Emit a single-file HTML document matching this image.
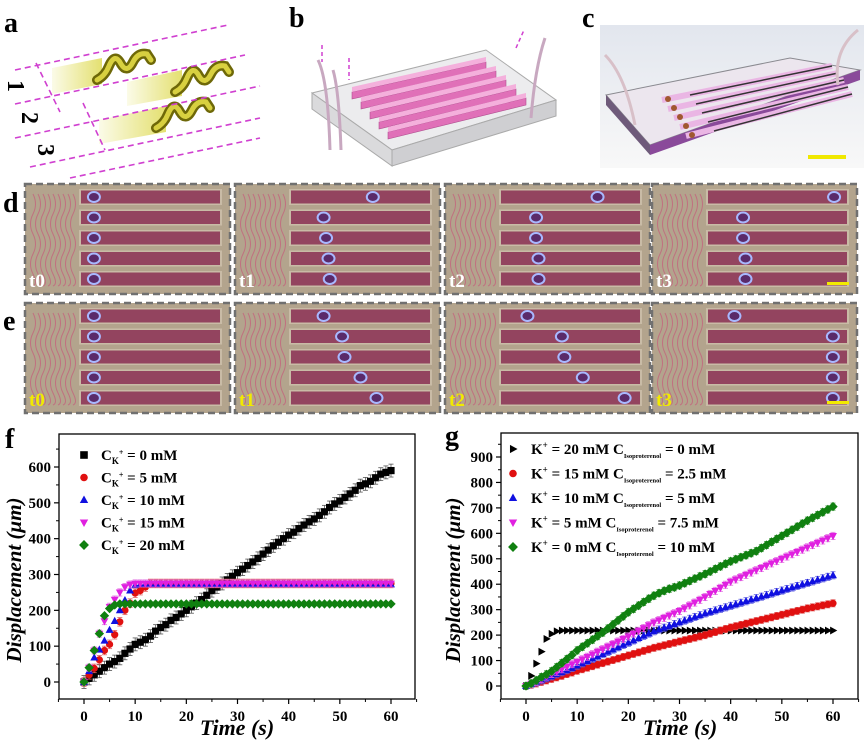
<!DOCTYPE html>
<html><head><meta charset="utf-8">
<style>
html,body{margin:0;padding:0;background:#fff;}
svg{display:block;font-family:"Liberation Serif",serif;}
</style></head>
<body>
<svg id="fig" width="866" height="741" viewBox="0 0 866 741" xmlns="http://www.w3.org/2000/svg">
<defs>
<linearGradient id="yel" x1="0" x2="1" y1="0" y2="0"><stop offset="0" stop-color="#fbfbe8"/><stop offset="1" stop-color="#e4e070"/></linearGradient>
<linearGradient id="bgc" x1="0" x2="0" y1="0" y2="1"><stop offset="0" stop-color="#e2e6ee"/><stop offset="1" stop-color="#f8f8f8"/></linearGradient>
</defs>
<!-- panel labels -->
<g font-weight="bold" font-size="28" fill="#000">
<text x="4" y="32">a</text>
<text x="289" y="27">b</text>
<text x="582" y="27">c</text>
<text x="3" y="212">d</text>
<text x="3" y="330">e</text>
<text x="5" y="448">f</text>
<text x="445" y="445">g</text>
</g>
<!-- panel a -->
<g id="pa">
<polygon points="52,68 102,58 102,84 52,94" fill="url(#yel)"/>
<polygon points="127,82 182,70 182,96 127,106" fill="url(#yel)"/>
<polygon points="99,120 166,106 166,132 99,144" fill="url(#yel)"/>
<g fill="none" stroke-linecap="round">
<path d="M97,80 q8,-4 12,-14 q6,-14 12,-2 q6,10 12,-2 q5,-10 14,-8 l4,6" stroke="#6e6808" stroke-width="10"/>
<path d="M97,80 q8,-4 12,-14 q6,-14 12,-2 q6,10 12,-2 q5,-10 14,-8 l4,6" stroke="#d8d040" stroke-width="5"/>
<path d="M175,92 q8,-4 12,-14 q6,-14 12,-2 q6,10 12,-2 q5,-10 14,-8 l4,6" stroke="#6e6808" stroke-width="10"/>
<path d="M175,92 q8,-4 12,-14 q6,-14 12,-2 q6,10 12,-2 q5,-10 14,-8 l4,6" stroke="#d8d040" stroke-width="5"/>
<path d="M156,128 q8,-4 12,-14 q6,-14 12,-2 q6,10 12,-2 q5,-10 14,-8 l4,6" stroke="#6e6808" stroke-width="10"/>
<path d="M156,128 q8,-4 12,-14 q6,-14 12,-2 q6,10 12,-2 q5,-10 14,-8 l4,6" stroke="#d8d040" stroke-width="5"/>
</g>
<g stroke="#d040d0" stroke-width="1.6" stroke-dasharray="6,4" fill="none">
<line x1="15" y1="70" x2="228" y2="25"/>
<line x1="15" y1="104" x2="245" y2="55"/>
<line x1="15" y1="138" x2="260" y2="86"/>
<line x1="30" y1="167" x2="260" y2="118"/>
<line x1="70" y1="178" x2="260" y2="138"/>
<line x1="36" y1="63" x2="60" y2="112"/>
<line x1="83" y1="103" x2="105" y2="150"/>
</g>
<g font-weight="bold" font-size="24">
<text transform="translate(8,80) rotate(90)">1</text>
<text transform="translate(22,112) rotate(90)">2</text>
<text transform="translate(38,144) rotate(90)">3</text>
</g>
</g>
<!-- panel b -->
<g id="pb">
<polygon points="312,93 486,50 556,100 392,150" fill="#ececee" stroke="#aaa"/>
<polygon points="312,93 392,150 392,166 312,109" fill="#dadadc" stroke="#aaa"/>
<polygon points="392,150 556,100 556,116 392,166" fill="#cfcfd2" stroke="#aaa"/>
<g id="bchan"></g>
<path d="M318,60 q10,20 12,90" stroke="#c8a8c0" stroke-width="3" fill="none"/>
<path d="M333,70 q6,20 8,80" stroke="#c8a8c0" stroke-width="3" fill="none"/>
<path d="M545,38 q-10,30 -14,80" stroke="#c8a8c0" stroke-width="3" fill="none"/>
<g stroke="#d040d0" stroke-width="1.5" stroke-dasharray="4,3" fill="none">
<line x1="322" y1="45" x2="322" y2="62"/><line x1="349" y1="58" x2="349" y2="80"/><line x1="516" y1="48" x2="524" y2="30"/>
</g>
</g>
<!-- panel c -->
<g id="pc">
<rect x="600" y="25" width="264" height="143" fill="url(#bgc)"/>
<polygon points="606,95 790,58 860,70 650,145" fill="#ece6ee" stroke="#8a8a90"/>
<polygon points="606,95 650,145 650,155 606,105" fill="#6e5a7a"/>
<polygon points="650,145 860,70 860,80 650,155" fill="#8a4a9a"/>
<g stroke="#eab6e4" stroke-width="6">
<line x1="662" y1="100" x2="832" y2="66"/><line x1="668" y1="109" x2="838" y2="73"/>
<line x1="674" y1="118" x2="844" y2="80"/><line x1="680" y1="127" x2="848" y2="87"/><line x1="686" y1="136" x2="852" y2="94"/>
</g>
<g stroke="#333" stroke-width="1.5">
<line x1="690" y1="95" x2="832" y2="66"/><line x1="696" y1="104" x2="838" y2="73"/><line x1="702" y1="113" x2="844" y2="80"/><line x1="708" y1="122" x2="848" y2="87"/><line x1="714" y1="131" x2="852" y2="94"/>
</g>
<g fill="#a05830"><circle cx="668" cy="99" r="3"/><circle cx="674" cy="108" r="3"/><circle cx="680" cy="117" r="3"/><circle cx="686" cy="126" r="3"/><circle cx="692" cy="135" r="3"/></g>
<path d="M605,55 q20,20 30,70" stroke="#d8c0c8" stroke-width="3" fill="none"/>
<path d="M858,30 q-25,20 -20,55" stroke="#d8c0c8" stroke-width="3" fill="none"/>
<rect x="808" y="155" width="38" height="4" fill="#f0e800"/>
</g>
<g id="rows"></g>
<g id="chartF"></g>
<g id="chartG"></g>
</svg>
<script>
// ---------- chart f data ----------
const fTime = [];
for (let i = 0; i <= 60; i++) fTime.push(i);
const fXTicks = [0,10,20,30,40,50,60];
const fYTicks = [0,100,200,300,400,500,600];
const fBlack = [0,10,20,30,40,50,57,66,80,92,105,111,118,128,142,152,160,172,180,190,200,210,220,230,242,255,265,275,285,295,305,315,325,335,345,357,368,380,390,400,410,418,428,438,447,455,465,475,487,497,505,515,525,535,548,553,560,570,580,585,590];
const fRed = [0,20,38,62,88,105,132,168,200,220,248,255,265,275,275,275,275,275,275,275,275,275,275,275,275,275,275,275,275,275,275,275,275,275,275,275,275,275,275,275,275,275,275,275,275,275,275,275,275,275,275,275,275,275,275,275,275,275,275,275,275];
const fBlue = [0,30,68,90,115,145,170,200,228,255,270,272,272,272,272,272,272,272,272,272,272,272,272,272,272,272,272,272,272,272,272,272,272,272,272,272,272,272,272,272,272,272,272,272,272,272,272,272,272,272,272,272,272,272,272,272,272,272,272,272,272];
const fMagenta = [0,40,88,135,170,210,230,250,265,272,275,275,275,275,275,275,275,275,275,275,275,275,275,275,275,275,275,275,275,275,275,275,275,275,275,275,275,275,275,275,275,275,275,275,275,275,275,275,275,275,275,275,275,275,275,275,275,275,275,275,275];
const fGreen = [0,40,88,135,185,205,215,218,218,218,218,218,218,218,218,218,218,218,218,218,218,218,218,218,218,218,218,218,218,218,218,218,218,218,218,218,218,218,218,218,218,218,218,218,218,218,218,218,218,218,218,218,218,218,218,218,218,218,218,218,218];
// ---------- chart g data ----------
const gTime = fTime;
const gXTicks = [0,10,20,30,40,50,60];
const gYTicks = [0,100,200,300,400,500,600,700,800,900];
const gBlack = [0,40,88,135,185,205,215,218,218,218,218,218,218,218,218,218,218,218,218,218,218,218,218,218,218,218,218,218,218,218,218,218,218,218,218,218,218,218,218,218,218,218,218,218,218,218,218,218,218,218,218,218,218,218,218,218,218,218,218,218,218];
const gRed = [0,5,10,16,22,28,34,40,47,53,60,66,72,78,84,90,96,102,108,114,120,126,132,138,144,150,155,160,165,170,175,180,185,190,195,200,206,212,218,224,230,235,240,245,250,255,260,265,270,275,280,285,290,295,300,305,309,313,317,321,325];
const gBlue = [0,7,14,22,30,38,46,54,62,71,80,89,98,107,116,125,134,143,152,161,170,179,188,197,206,215,222,229,236,243,250,257,264,271,278,285,291,297,303,309,315,321,327,333,339,345,351,357,363,369,375,381,387,393,399,405,411,417,423,429,435];
const gMagenta = [0,8,17,27,37,47,56,66,76,86,95,105,115,125,135,145,155,165,175,185,195,206,217,228,239,250,259,268,277,286,295,306,317,328,339,350,362,374,386,398,410,419,428,437,446,455,464,473,482,491,500,509,518,527,536,545,554,563,572,581,590];
const gGreen = [0,10,22,35,46,58,74,90,106,122,140,154,168,182,196,210,226,242,258,274,290,303,316,330,343,355,365,374,382,388,395,404,413,422,431,440,450,460,470,480,490,498,506,514,522,530,542,554,566,578,590,602,614,626,638,650,661,672,683,694,705];

const NS = "http://www.w3.org/2000/svg";
function mk(tag, attrs, parent, txt) {
  const e = document.createElementNS(NS, tag);
  for (const k in attrs) e.setAttribute(k, attrs[k]);
  if (txt !== undefined) e.textContent = txt;
  parent.appendChild(e);
  return e;
}
function marker(p, shape, x, y, c, s) {
  s = s || 3.6;
  let el;
  if (shape === 'sq') el = mk('rect', {x: x - s, y: y - s, width: 2 * s, height: 2 * s, fill: c}, p);
  else if (shape === 'ci') el = mk('circle', {cx: x, cy: y, r: s, fill: c}, p);
  else if (shape === 'up') el = mk('polygon', {points: `${x},${y - s * 1.2} ${x - s * 1.1},${y + s * 0.8} ${x + s * 1.1},${y + s * 0.8}`, fill: c}, p);
  else if (shape === 'dn') el = mk('polygon', {points: `${x},${y + s * 1.2} ${x - s * 1.1},${y - s * 0.8} ${x + s * 1.1},${y - s * 0.8}`, fill: c}, p);
  else if (shape === 'di') el = mk('polygon', {points: `${x},${y - s * 1.3} ${x + s * 1.3},${y} ${x},${y + s * 1.3} ${x - s * 1.3},${y}`, fill: c}, p);
  else el = mk('polygon', {points: `${x + s * 1.2},${y} ${x - s * 0.8},${y - s * 1.1} ${x - s * 0.8},${y + s * 1.1}`, fill: c}, p);
  return el;
}

// ---------- panel b channels ----------
(function () {
  const g = document.getElementById('bchan');
  for (let i = 0; i < 5; i++) {
    const sx = 352 + 9 * i, sy = 92 + 10 * i, ex = 486 + 10 * i, ey = 62 + 9 * i;
    const el = mk('polygon', {points: `${sx},${sy} ${ex},${ey} ${ex},${ey + 7} ${sx},${sy + 7}`, fill: '#e070b8', stroke: '#b05090', 'stroke-width': 0.6}, g);
    
    
    mk('polygon', {points: `${sx},${sy - 5} ${ex},${ey - 5} ${ex},${ey} ${sx},${sy}`, fill: '#f4b0dc'}, g);
  }
})();

// ---------- panels d / e ----------
const panelX = [25, 235, 445, 652];
const panelW = 205;
const dPos = [[0.04,0.04,0.04,0.04,0.04],[0.6,0.2,0.22,0.24,0.25],[0.72,0.22,0.22,0.24,0.24],[0.96,0.22,0.22,0.24,0.24]];
const ePos = [[0.04,0.04,0.04,0.04,0.04],[0.2,0.35,0.37,0.5,0.63],[0.15,0.43,0.45,0.6,0.94],[0.15,0.95,0.95,0.95,0.95]];
(function () {
  const root = document.getElementById('rows');
  const rows = [{y: 184, pos: dPos, col: '#ffffff', name: 'd'}, {y: 303, pos: ePos, col: '#f2ea00', name: 'e'}];
  rows.forEach(r => {
    panelX.forEach((px, k) => {
      const g = mk('g', {}, root);
      
      
      mk('rect', {x: px, y: r.y, width: panelW, height: 110, fill: '#b3a48d', stroke: '#707070', 'stroke-width': 2.5, 'stroke-dasharray': '7,4'}, g);
      for (let j = 0; j < 9; j++) mk('path', {d: `M${px + 8 + j * 5},${r.y + 10} q5,10 0,20 q-5,10 0,20 q5,10 0,20 q-5,10 0,20 q5,10 0,12`, stroke: '#c07080', 'stroke-width': 1, fill: 'none'}, g);
      for (let c = 0; c < 5; c++) {
        const cy = r.y + 13 + c * 20.5;
        const cx0 = px + 56, cw = panelW - 66;
        mk('rect', {x: cx0 - 2, y: cy - 8, width: cw + 4, height: 16, fill: '#c9bba6'}, g);
        const ch = mk('rect', {x: cx0, y: cy - 6.5, width: cw, height: 13, fill: '#93445f'}, g);
        
        
        const mx = cx0 + 8 + r.pos[k][c] * (cw - 16);
        const rob = mk('ellipse', {cx: mx, cy: cy, rx: 6, ry: 5, fill: '#5a2a6a', stroke: '#a8b8ff', 'stroke-width': 2}, g);
        
        
      }
      const t = mk('text', {x: px + 4, y: r.y + 103, fill: r.col, 'font-size': 19, 'font-weight': 'bold'}, g, 't' + k);
      
      
      if (k === 3) mk('rect', {x: px + 175, y: r.y + 98, width: 22, height: 3, fill: '#f2ea00'}, g);
    });
  });
})();

// ---------- chart builder ----------
function buildChart(cfg) {
  const g = document.getElementById(cfg.id);
  const X = t => cfg.x0 + (t - cfg.tmin) * cfg.xs;
  const Y = v => cfg.y0 - v * cfg.ys;
  const f = cfg.frame;
  const fr = mk('rect', {x: f[0], y: f[1], width: f[2] - f[0], height: f[3] - f[1], fill: 'none', stroke: '#000', 'stroke-width': 1.3}, g);
  
  
  cfg.xticks.forEach(t => {
    mk('line', {x1: X(t), x2: X(t), y1: f[3], y2: f[3] + 5, stroke: '#000', 'stroke-width': 1.2}, g);
    mk('line', {x1: X(t + 5), x2: X(t + 5), y1: f[3], y2: f[3] + 3, stroke: '#000', 'stroke-width': 1}, g);
    const tl = mk('text', {x: X(t), y: f[3] + 22, 'text-anchor': 'middle', 'font-size': 15, 'font-weight': 'bold'}, g, t);
    
    
  });
  mk('line', {x1: X(-5), x2: X(-5), y1: f[3], y2: f[3] + 3, stroke: '#000'}, g);
  cfg.yticks.forEach(v => {
    mk('line', {x1: f[0] - 5, x2: f[0], y1: Y(v), y2: Y(v), stroke: '#000', 'stroke-width': 1.2}, g);
    mk('line', {x1: f[0] - 3, x2: f[0], y1: Y(v + 50), y2: Y(v + 50), stroke: '#000'}, g);
    const tl = mk('text', {x: f[0] - 8, y: Y(v) + 5, 'text-anchor': 'end', 'font-size': 15, 'font-weight': 'bold'}, g, v);
    
    
  });
  const xt = mk('text', {x: cfg.xtitle[0], y: cfg.xtitle[1], 'text-anchor': 'middle', 'font-size': 22, 'font-weight': 'bold', 'font-style': 'italic'}, g, 'Time (s)');
  
  
  const yt = mk('text', {transform: `translate(${cfg.ytitle[0]},${cfg.ytitle[1]}) rotate(-90)`, 'text-anchor': 'middle', 'font-size': 21, 'font-weight': 'bold', 'font-style': 'italic'}, g, 'Displacement (\u03bcm)');
  
  
  cfg.series.forEach(s => {
    const sg = mk('g', {}, g);
    
    
    s.data.forEach((v, i) => {
      const t = cfg.time[i];
      if (s.err) {
        const e = s.err * cfg.ys;
        mk('line', {x1: X(t), x2: X(t), y1: Y(v) - e, y2: Y(v) + e, stroke: s.errColor, 'stroke-width': 0.8}, sg);
        mk('line', {x1: X(t) - 2.5, x2: X(t) + 2.5, y1: Y(v) - e, y2: Y(v) - e, stroke: s.errColor, 'stroke-width': 0.8}, sg);
        mk('line', {x1: X(t) - 2.5, x2: X(t) + 2.5, y1: Y(v) + e, y2: Y(v) + e, stroke: s.errColor, 'stroke-width': 0.8}, sg);
      }
      const m = marker(sg, s.shape, X(t), Y(v), s.color);
      
      
    });
  });
  cfg.legend.forEach((l, i) => {
    const lg = mk('g', {}, g);
    
    
    const ly = cfg.legY + i * cfg.legDy;
    marker(lg, l.shape, cfg.legX, ly, l.color, 3.8);
    const tx = mk('text', {x: cfg.legX + cfg.legTx, y: ly + 5, 'font-size': 15, 'font-weight': 'bold'}, lg);
    tx.innerHTML = l.html;
  });
}

buildChart({
  id: 'chartF', frame: [59, 434, 415, 699], x0: 84, tmin: 0, xs: 307 / 60, y0: 682, ys: 215 / 600,
  xticks: fXTicks, yticks: fYTicks, time: fTime, xtitle: [237, 735], ytitle: [21, 580],
  series: [
    {name: 'series-0mM', data: fBlack, color: '#000', shape: 'sq', err: 18, errColor: '#555'},
    {name: 'series-5mM', data: fRed, color: '#e01010', shape: 'ci', err: 12, errColor: '#e06060'},
    {name: 'series-10mM', data: fBlue, color: '#1010e0', shape: 'up'},
    {name: 'series-15mM', data: fMagenta, color: '#e020e0', shape: 'dn', err: 10, errColor: '#e070e0'},
    {name: 'series-20mM', data: fGreen, color: '#108010', shape: 'di'}
  ],
  legX: 84, legY: 455, legDy: 22.5, legTx: 17,
  legend: [
    {shape: 'sq', color: '#000', html: 'C<tspan font-size="9" dy="4">K</tspan><tspan font-size="8" dy="-9">+</tspan><tspan dy="5"> = 0 mM</tspan>'},
    {shape: 'ci', color: '#e01010', html: 'C<tspan font-size="9" dy="4">K</tspan><tspan font-size="8" dy="-9">+</tspan><tspan dy="5"> = 5 mM</tspan>'},
    {shape: 'up', color: '#1010e0', html: 'C<tspan font-size="9" dy="4">K</tspan><tspan font-size="8" dy="-9">+</tspan><tspan dy="5"> = 10 mM</tspan>'},
    {shape: 'dn', color: '#e020e0', html: 'C<tspan font-size="9" dy="4">K</tspan><tspan font-size="8" dy="-9">+</tspan><tspan dy="5"> = 15 mM</tspan>'},
    {shape: 'di', color: '#108010', html: 'C<tspan font-size="9" dy="4">K</tspan><tspan font-size="8" dy="-9">+</tspan><tspan dy="5"> = 20 mM</tspan>'}
  ]
});

function gLeg(k, c) {
  return 'K<tspan font-size="9" dy="-6">+</tspan><tspan dy="6"> = ' + k + '  C</tspan><tspan font-size="6.5" dy="4">Isoproterenol</tspan><tspan dy="-4"> = ' + c + '</tspan>';
}
buildChart({
  id: 'chartG', frame: [501, 433, 858, 699], x0: 526, tmin: 0, xs: 307 / 60, y0: 686, ys: 229 / 900,
  xticks: gXTicks, yticks: gYTicks, time: gTime, xtitle: [680, 735], ytitle: [460, 580],
  series: [
    {name: 'series-k20', data: gBlack, color: '#000', shape: 'ri'},
    {name: 'series-k15', data: gRed, color: '#e01010', shape: 'ci', err: 14, errColor: '#e06060'},
    {name: 'series-k10', data: gBlue, color: '#1010e0', shape: 'up', err: 14, errColor: '#6060e0'},
    {name: 'series-k5', data: gMagenta, color: '#e020e0', shape: 'dn', err: 14, errColor: '#e070e0'},
    {name: 'series-k0', data: gGreen, color: '#108010', shape: 'di', err: 14, errColor: '#50a050'}
  ],
  legX: 513, legY: 449, legDy: 24.5, legTx: 18,
  legend: [
    {shape: 'ri', color: '#000', html: gLeg('20 mM', '0 mM')},
    {shape: 'ci', color: '#e01010', html: gLeg('15 mM', '2.5 mM')},
    {shape: 'up', color: '#1010e0', html: gLeg('10 mM', '5 mM')},
    {shape: 'dn', color: '#e020e0', html: gLeg('5 mM', '7.5 mM')},
    {shape: 'di', color: '#108010', html: gLeg('0 mM', '10 mM')}
  ]
});
</script>
</body></html>
